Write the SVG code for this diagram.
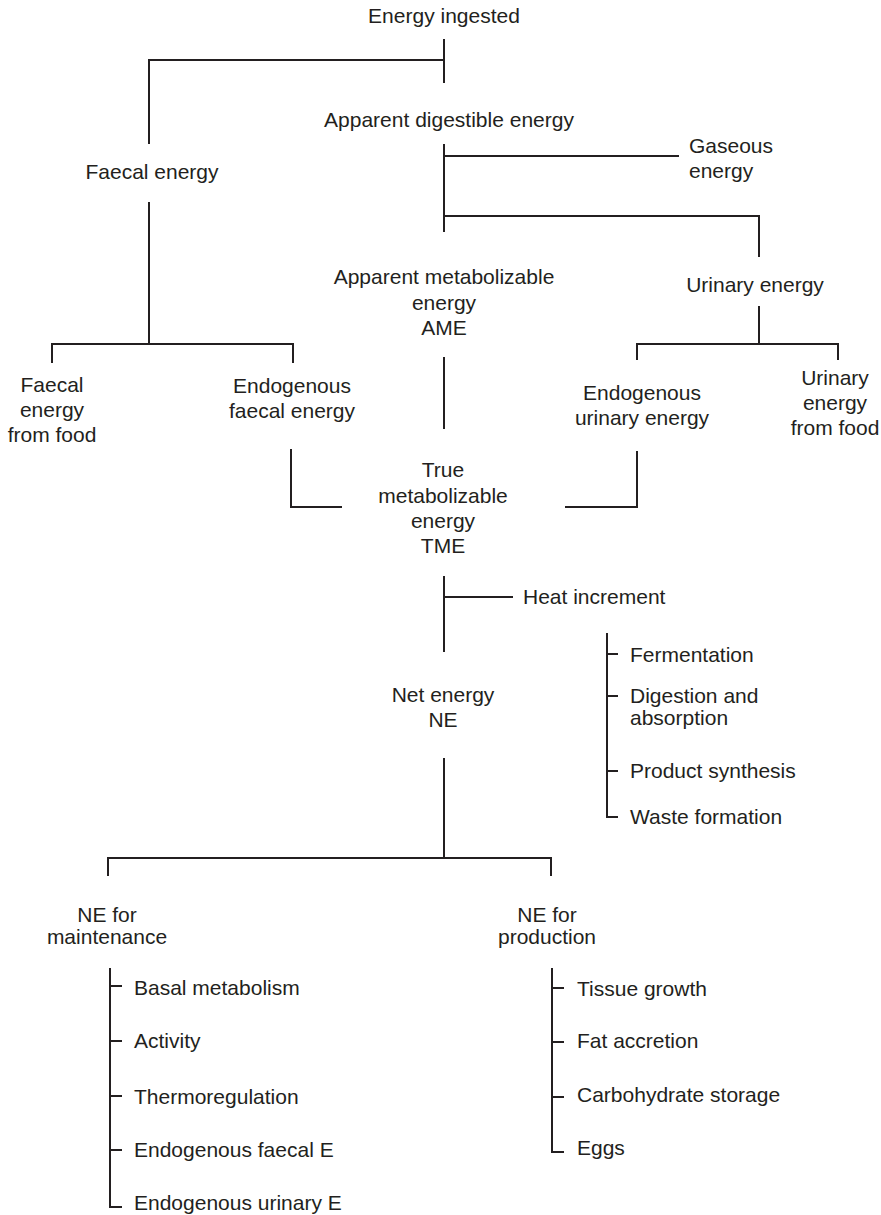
<svg xmlns="http://www.w3.org/2000/svg" width="881" height="1215" viewBox="0 0 881 1215">
<style>
text{font-family:"Liberation Sans",Arial,Helvetica,sans-serif;font-size:21px;fill:#231f20}
.c{text-anchor:middle}
.l{stroke:#231f20;stroke-width:2;fill:none;stroke-linecap:butt;stroke-linejoin:miter}
</style>
<rect width="881" height="1215" fill="#fff"/>
<g id="connectors" class="l">
<path d="M444,39 V83"/>
<path d="M149,144 V60 H444"/>
<path d="M444,144 V232"/>
<path d="M444,156 H679"/>
<path d="M444,216 H759 V257"/>
<path d="M149,202 V344"/>
<path d="M52,363 V344 H293 V363"/>
<path d="M759,306 V344"/>
<path d="M637,360 V344 H838 V360"/>
<path d="M444,357 V429"/>
<path d="M291,449 V507 H342"/>
<path d="M565,507 H637 V451"/>
<path d="M444,576 V652"/>
<path d="M444,597 H513"/>
<path d="M607,633 V817 H618"/>
<path d="M607,654 H618 M607,696 H618 M607,771 H618"/>
<path d="M444,758 V858"/>
<path d="M108,876 V858 H551 V876"/>
<path d="M110,968 V1207 H122"/>
<path d="M110,986 H122 M110,1041 H122 M110,1096 H122 M110,1150 H122"/>
<path d="M552,968 V1152 H564"/>
<path d="M552,988 H564 M552,1042 H564 M552,1097 H564"/>
</g>
<g id="energy-ingested"><text class="c" x="444" y="23">Energy ingested</text></g>
<g id="apparent-digestible"><text class="c" x="449" y="127">Apparent digestible energy</text></g>
<g id="faecal-energy"><text class="c" x="152" y="179">Faecal energy</text></g>
<g id="gaseous-energy"><text x="689" y="153">Gaseous</text><text x="689" y="178">energy</text></g>
<g id="ame"><text class="c" x="444" y="284">Apparent metabolizable</text><text class="c" x="444" y="310">energy</text><text class="c" x="444" y="335">AME</text></g>
<g id="urinary-energy"><text class="c" x="755" y="292">Urinary energy</text></g>
<g id="faecal-food"><text class="c" x="52" y="392">Faecal</text><text class="c" x="52" y="417">energy</text><text class="c" x="52" y="442">from food</text></g>
<g id="endo-faecal"><text class="c" x="292" y="393">Endogenous</text><text class="c" x="292" y="418">faecal energy</text></g>
<g id="endo-urinary"><text class="c" x="642" y="400">Endogenous</text><text class="c" x="642" y="425">urinary energy</text></g>
<g id="urinary-food"><text class="c" x="835" y="385">Urinary</text><text class="c" x="835" y="410">energy</text><text class="c" x="835" y="435">from food</text></g>
<g id="tme"><text class="c" x="443" y="477">True</text><text class="c" x="443" y="503">metabolizable</text><text class="c" x="443" y="528">energy</text><text class="c" x="443" y="553">TME</text></g>
<g id="heat-increment"><text x="523" y="604">Heat increment</text></g>
<g id="heat-list"><text x="630" y="662">Fermentation</text><text x="630" y="703">Digestion and</text><text x="630" y="725">absorption</text><text x="630" y="778">Product synthesis</text><text x="630" y="824">Waste formation</text></g>
<g id="net-energy"><text class="c" x="443" y="702">Net energy</text><text class="c" x="443" y="727">NE</text></g>
<g id="ne-maintenance"><text class="c" x="107" y="922">NE for</text><text class="c" x="107" y="944">maintenance</text></g>
<g id="ne-production"><text class="c" x="547" y="922">NE for</text><text class="c" x="547" y="944">production</text></g>
<g id="maintenance-list"><text x="134" y="995">Basal metabolism</text><text x="134" y="1048">Activity</text><text x="134" y="1104">Thermoregulation</text><text x="134" y="1157">Endogenous faecal E</text><text x="134" y="1210">Endogenous urinary E</text></g>
<g id="production-list"><text x="577" y="996">Tissue growth</text><text x="577" y="1048">Fat accretion</text><text x="577" y="1102">Carbohydrate storage</text><text x="577" y="1155">Eggs</text></g>
</svg>
